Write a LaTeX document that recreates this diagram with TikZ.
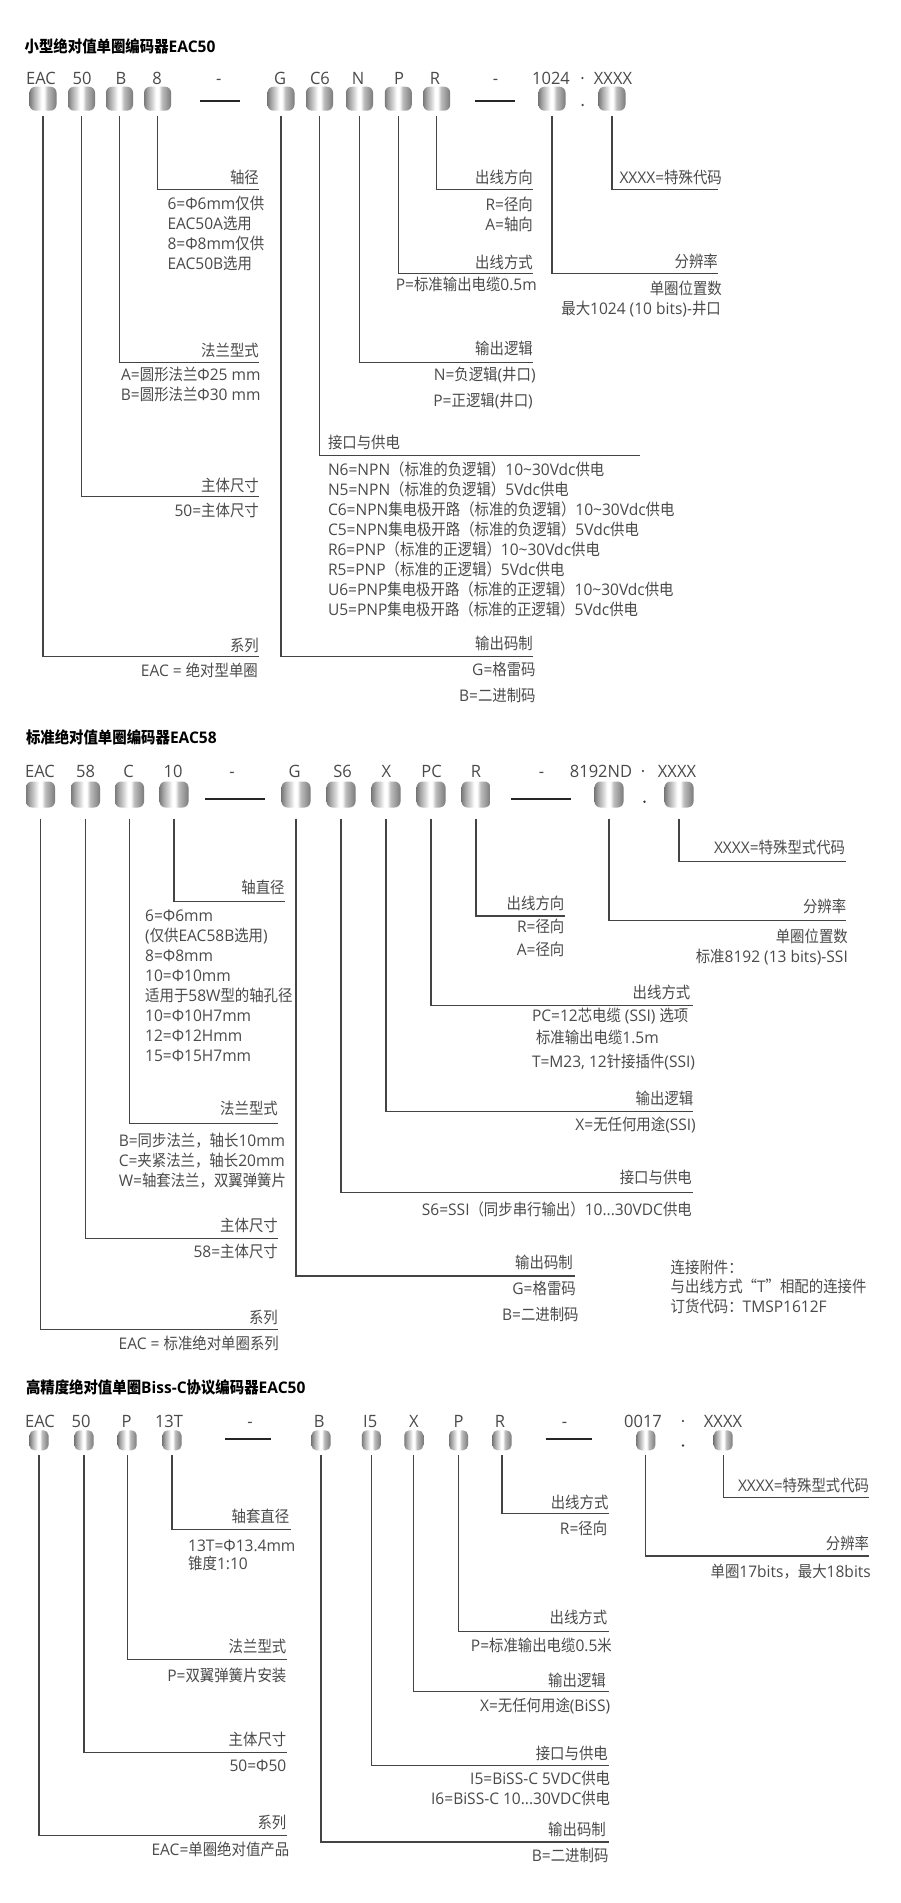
\documentclass[tikz,border=0pt]{standalone}
\usepackage{fontspec}
\setmainfont{Open Sans}[FakeStretch=0.97]
\newfontfamily\cjkfont{Noto Sans CJK SC}[FakeStretch=0.9]
\newcount\cjkcnt
\XeTeXinterchartokenstate=1
\chardef\cjkcls=7
\cjkcnt="3000
\loop
  \XeTeXcharclass\cjkcnt=\cjkcls
  \advance\cjkcnt by 1
\ifnum\cjkcnt<"A000 \repeat
\cjkcnt="FF00
\loop
  \XeTeXcharclass\cjkcnt=\cjkcls
  \advance\cjkcnt by 1
\ifnum\cjkcnt<"FFF0 \repeat
\XeTeXcharclass"201C=\cjkcls
\XeTeXcharclass"201D=\cjkcls
\XeTeXinterchartoks 0 \cjkcls = {\begingroup\cjkfont}
\XeTeXinterchartoks 4095 \cjkcls = {\begingroup\cjkfont}
\XeTeXinterchartoks \cjkcls 0 = {\endgroup}
\XeTeXinterchartoks \cjkcls 4095 = {\endgroup}
\definecolor{txt}{HTML}{4A4A4A}
\definecolor{lin}{HTML}{444444}
\definecolor{mA}{HTML}{7A7A7A}
\definecolor{mB}{HTML}{A8A8A8}
\definecolor{mC}{HTML}{D4D4D4}
\definecolor{mD}{HTML}{BDBDBD}
\definecolor{mE}{HTML}{9A9A9A}
\pgfdeclarehorizontalshading{metal}{100bp}{color(0bp)=(mA); color(25bp)=(mA); color(32bp)=(mB); color(40bp)=(mC); color(47bp)=(white); color(52bp)=(white); color(58bp)=(mD); color(67bp)=(mE); color(75bp)=(mA); color(100bp)=(mA)}
\tikzset{
  cyl/.style={shading=metal, rounded corners=6pt, inner sep=0pt, outer sep=0pt},
  cylA/.style={cyl, minimum width=27pt, minimum height=24pt},
  cylB/.style={cyl, minimum width=29pt, minimum height=26pt},
  cylC/.style={cyl, minimum width=19pt, minimum height=20pt, rounded corners=5pt},
  codelbl/.style={font=\fontsize{17}{20}\selectfont, text=txt, inner sep=0pt, text height=12pt, text depth=0pt},
  lbl/.style={font=\fontsize{16}{19}\selectfont, text=txt, inner sep=0pt, text height=11pt, text depth=0pt},
  lr/.style={lbl, anchor=east},
  ll/.style={lbl, anchor=west},
  ttl/.style={font=\fontsize{16}{19}\selectfont\bfseries, text=black, inner sep=0pt, anchor=west, text height=11pt, text depth=0pt},
  conn/.style={draw=lin, line width=1.1pt},
  grpdash/.style={draw=black!85, line width=2pt},
  dotm/.style={circle, fill=black!75, inner sep=0pt, minimum size=2.6pt},
}
\begin{document}
\begin{tikzpicture}[x=1pt,y=-1pt]
\fill[white] (0,0) rectangle (900,1903);
\useasboundingbox (0,0) rectangle (900,1903);

%================ Section 1 ================
\node[ttl] (t1) at (24.5,46.7) {小型绝对值单圈编码器EAC50};
\node[codelbl] (la1) at (41,78.3) {EAC};
\node[codelbl] (la2) at (82,78.3) {50};
\node[codelbl] (la3) at (121,78.3) {B};
\node[codelbl] (la4) at (157,78.3) {8};
\node[codelbl] (la5) at (218.8,78.3) {-};
\node[codelbl] (la6) at (280,78.3) {G};
\node[codelbl] (la7) at (320,78.3) {C6};
\node[codelbl] (la8) at (358,78.3) {N};
\node[codelbl] (la9) at (399,78.3) {P};
\node[codelbl] (la10) at (435,78.3) {R};
\node[codelbl] (la11) at (495.5,78.3) {-};
\node[codelbl] (la12) at (551,78.3) {1024};
\node[codelbl] (la13) at (582.6,78.3) {·};
\node[codelbl] (la14) at (613,78.3) {XXXX};

\node[cylA] (a1) at (43,98.7) {};
\node[cylA] (a2) at (81.5,98.7) {};
\node[cylA] (a3) at (119.5,98.7) {};
\node[cylA] (a4) at (157.6,98.7) {};
\node[cylA] (a5) at (281,98.7) {};
\node[cylA] (a6) at (319.5,98.7) {};
\node[cylA] (a7) at (359.5,98.7) {};
\node[cylA] (a8) at (398.3,98.7) {};
\node[cylA] (a9) at (436.7,98.7) {};
\node[cylA] (a10) at (552,98.7) {};
\node[cylA] (a11) at (612,98.7) {};
\draw[grpdash] (200,100.5) -- (240,100.5);
\draw[grpdash] (475.4,100.5) -- (514.7,100.5);
\node[dotm] (ad) at (582.6,105) {};

\coordinate (ea4) at (259,189.3);
\coordinate (ea9) at (533,189.3);
\coordinate (ea11) at (718,189.3);
\coordinate (ea8) at (533,273.3);
\coordinate (ea10) at (718,273.3);
\coordinate (ea3) at (259,362.7);
\coordinate (ea7) at (533,362.7);
\coordinate (ea6) at (640,455.7);
\coordinate (ea2) at (259,496.3);
\coordinate (ea1) at (259,656.7);
\coordinate (ea5) at (533,656.7);
\foreach \n in {1,...,11}{\draw[conn] ([yshift=-5pt]a\n.south) |- (ea\n);}

\node[lr] (sa4) at (259,178.3) {轴径};
\node[ll] (sa4a) at (167.3,204) {6=Φ6mm仅供};
\node[ll] (sa4b) at (167.3,224) {EAC50A选用};
\node[ll] (sa4c) at (167.3,244) {8=Φ8mm仅供};
\node[ll] (sa4d) at (167.3,264) {EAC50B选用};

\node[lr] (sa9) at (533,178.3) {出线方向};
\node[lr] (sa9a) at (533,205) {R=径向};
\node[lr] (sa9b) at (533,225) {A=轴向};

\node[lr] (sa11) at (722,178.3) {XXXX=特殊代码};

\node[lr] (sa8) at (533,262.7) {出线方式};
\node[lr] (sa8a) at (537,285) {P=标准输出电缆0.5m};

\node[lr] (sa10) at (718,261.7) {分辨率};
\node[lr] (sa10a) at (722,289) {单圈位置数};
\node[lr] (sa10b) at (721,309) {最大1024 (10 bits)-井口};

\node[lr] (sa3) at (259,350.7) {法兰型式};
\node[lr] (sa3a) at (260.7,375) {A=圆形法兰Φ25 mm};
\node[lr] (sa3b) at (260.7,395) {B=圆形法兰Φ30 mm};

\node[lr] (sa7) at (533,349.3) {输出逻辑};
\node[lr] (sa7a) at (535.8,375) {N=负逻辑(井口)};
\node[lr] (sa7b) at (533,401) {P=正逻辑(井口)};

\node[ll] (sa6) at (327.8,443.3) {接口与供电};
\node[ll] (sa6a) at (327.8,470) {N6=NPN（标准的负逻辑）10\textasciitilde30Vdc供电};
\node[ll] (sa6b) at (327.8,490) {N5=NPN（标准的负逻辑）5Vdc供电};
\node[ll] (sa6c) at (327.8,510) {C6=NPN集电极开路（标准的负逻辑）10\textasciitilde30Vdc供电};
\node[ll] (sa6d) at (327.8,530) {C5=NPN集电极开路（标准的负逻辑）5Vdc供电};
\node[ll] (sa6e) at (327.8,550) {R6=PNP（标准的正逻辑）10\textasciitilde30Vdc供电};
\node[ll] (sa6f) at (327.8,570) {R5=PNP（标准的正逻辑）5Vdc供电};
\node[ll] (sa6g) at (327.8,590) {U6=PNP集电极开路（标准的正逻辑）10\textasciitilde30Vdc供电};
\node[ll] (sa6h) at (327.8,610) {U5=PNP集电极开路（标准的正逻辑）5Vdc供电};

\node[lr] (sa2) at (259,485.7) {主体尺寸};
\node[lr] (sa2a) at (259,511) {50=主体尺寸};

\node[lr] (sa1) at (259,646) {系列};
\node[lr] (sa1a) at (258,670.7) {EAC = 绝对型单圈};

\node[lr] (sa5) at (533,644.3) {输出码制};
\node[lr] (sa5a) at (535.8,670) {G=格雷码};
\node[lr] (sa5b) at (535.8,696) {B=二进制码};

%================ Section 2 ================
\node[ttl] (t2) at (25.8,738.3) {标准绝对值单圈编码器EAC58};
\node[codelbl] (lb1) at (40,771.7) {EAC};
\node[codelbl] (lb2) at (85.5,771.7) {58};
\node[codelbl] (lb3) at (128.6,771.7) {C};
\node[codelbl] (lb4) at (173,771.7) {10};
\node[codelbl] (lb5) at (232,771.7) {-};
\node[codelbl] (lb6) at (294.5,771.7) {G};
\node[codelbl] (lb7) at (342.5,771.7) {S6};
\node[codelbl] (lb8) at (386.5,771.7) {X};
\node[codelbl] (lb9) at (431.5,771.7) {PC};
\node[codelbl] (lb10) at (476,771.7) {R};
\node[codelbl] (lb11) at (541.5,771.7) {-};
\node[codelbl] (lb12) at (601,771.7) {8192ND};
\node[codelbl] (lb13) at (643,771.7) {·};
\node[codelbl] (lb14) at (677,771.7) {XXXX};

\node[cylB] (b1) at (40.5,794.5) {};
\node[cylB] (b2) at (85.5,794.5) {};
\node[cylB] (b3) at (129.5,794.5) {};
\node[cylB] (b4) at (174,794.5) {};
\node[cylB] (b5) at (296,794.5) {};
\node[cylB] (b6) at (341,794.5) {};
\node[cylB] (b7) at (386,794.5) {};
\node[cylB] (b8) at (431,794.5) {};
\node[cylB] (b9) at (476,794.5) {};
\node[cylB] (b10) at (609,794.5) {};
\node[cylB] (b11) at (679,794.5) {};
\draw[grpdash] (205,799) -- (264.8,799);
\draw[grpdash] (511,799) -- (571,799);
\node[dotm] (bd) at (644.5,801.7) {};

\coordinate (eb1) at (278,1329.3);
\coordinate (eb2) at (278,1238.3);
\coordinate (eb3) at (278,1123.3);
\coordinate (eb4) at (284.8,901.7);
\coordinate (eb5) at (574.8,1276);
\coordinate (eb6) at (693.4,1192.3);
\coordinate (eb7) at (693.4,1111.7);
\coordinate (eb8) at (693.4,1005.7);
\coordinate (eb9) at (564.5,916);
\coordinate (eb10) at (846.4,920.7);
\coordinate (eb11) at (846.4,861.7);
\foreach \n in {1,...,11}{\draw[conn] ([yshift=-11pt]b\n.south) |- (eb\n);}

\node[lr] (sb11) at (845.3,847.7) {XXXX=特殊型式代码};

\node[lr] (sb4) at (284.8,888.3) {轴直径};
\node[ll] (sb4a) at (145,916) {6=Φ6mm};
\node[ll] (sb4b) at (145,936) {(仅供EAC58B选用)};
\node[ll] (sb4c) at (145,956) {8=Φ8mm};
\node[ll] (sb4d) at (145,976) {10=Φ10mm};
\node[ll] (sb4e) at (145,996) {适用于58W型的轴孔径};
\node[ll] (sb4f) at (145,1016) {10=Φ10H7mm};
\node[ll] (sb4g) at (145,1036) {12=Φ12Hmm};
\node[ll] (sb4h) at (145,1056) {15=Φ15H7mm};

\node[lr] (sb9) at (564.5,904.3) {出线方向};
\node[lr] (sb9a) at (564.5,926.7) {R=径向};
\node[lr] (sb9b) at (564.5,950) {A=径向};

\node[lr] (sb10) at (846.4,906.7) {分辨率};
\node[lr] (sb10a) at (848,937.3) {单圈位置数};
\node[lr] (sb10b) at (848,956.7) {标准8192 (13 bits)-SSI};

\node[lr] (sb8) at (690.5,993.3) {出线方式};
\node[ll] (sb8a) at (531.8,1016) {PC=12芯电缆 (SSI) 选项};
\node[ll] (sb8b) at (535.8,1038.3) {标准输出电缆1.5m};
\node[ll] (sb8c) at (531.8,1062.3) {T=M23, 12针接插件(SSI)};

\node[lr] (sb7) at (693.4,1099.3) {输出逻辑};
\node[lr] (sb7a) at (696,1125) {X=无任何用途(SSI)};

\node[lr] (sb3) at (278,1109.3) {法兰型式};
\node[ll] (sb3a) at (118.6,1140.7) {B=同步法兰，轴长10mm};
\node[ll] (sb3b) at (118.6,1160.7) {C=夹紧法兰，轴长20mm};
\node[ll] (sb3c) at (118.6,1180.7) {W=轴套法兰，双翼弹簧片};

\node[lr] (sb6) at (692,1178.3) {接口与供电};
\node[lr] (sb6a) at (692,1210) {S6=SSI（同步串行输出）10...30VDC供电};

\node[lr] (sb2) at (278,1226) {主体尺寸};
\node[lr] (sb2a) at (278,1251.7) {58=主体尺寸};

\node[lr] (sb5) at (573,1263.3) {输出码制};
\node[lr] (sb5a) at (576,1289.3) {G=格雷码};
\node[lr] (sb5b) at (578.8,1315) {B=二进制码};

\node[ll] (sn1) at (670.5,1268.3) {连接附件：};
\node[ll] (sn2) at (670.5,1287.3) {与出线方式“T”相配的连接件};
\node[ll] (sn3) at (670.5,1306.7) {订货代码：TMSP1612F};

\node[lr] (sb1) at (278,1317.7) {系列};
\node[lr] (sb1a) at (279,1344.3) {EAC = 标准绝对单圈系列};

%================ Section 3 ================
\node[ttl] (t3) at (25.8,1388.3) {高精度绝对值单圈Biss-C协议编码器EAC50};
\node[codelbl] (lc1) at (40,1421.7) {EAC};
\node[codelbl] (lc2) at (81,1421.7) {50};
\node[codelbl] (lc3) at (126.5,1421.7) {P};
\node[codelbl] (lc4) at (169,1421.7) {13T};
\node[codelbl] (lc5) at (250,1421.7) {-};
\node[codelbl] (lc6) at (319.2,1421.7) {B};
\node[codelbl] (lc7) at (370.2,1421.7) {I5};
\node[codelbl] (lc8) at (413.8,1421.7) {X};
\node[codelbl] (lc9) at (458.5,1421.7) {P};
\node[codelbl] (lc10) at (500,1421.7) {R};
\node[codelbl] (lc11) at (564.5,1421.7) {-};
\node[codelbl] (lc12) at (643,1421.7) {0017};
\node[codelbl] (lc13) at (683,1421.7) {·};
\node[codelbl] (lc14) at (723,1421.7) {XXXX};

\node[cylC] (c1) at (39,1440.3) {};
\node[cylC] (c2) at (84,1440.3) {};
\node[cylC] (c3) at (127.2,1440.3) {};
\node[cylC] (c4) at (172,1440.3) {};
\node[cylC] (c5) at (321,1440.3) {};
\node[cylC] (c6) at (371.3,1440.3) {};
\node[cylC] (c7) at (413.8,1440.3) {};
\node[cylC] (c8) at (458.5,1440.3) {};
\node[cylC] (c9) at (502,1440.3) {};
\node[cylC] (c10) at (645.8,1440.3) {};
\node[cylC] (c11) at (723.2,1440.3) {};
\draw[grpdash] (225,1439) -- (271,1439);
\draw[grpdash] (546,1439) -- (592,1439);
\node[dotm] (cd) at (683,1445.5) {};

\coordinate (ec1) at (286.5,1835.7);
\coordinate (ec2) at (286.5,1752.7);
\coordinate (ec3) at (286.5,1659.3);
\coordinate (ec4) at (290.5,1529.3);
\coordinate (ec5) at (608.6,1842);
\coordinate (ec6) at (608.6,1765.7);
\coordinate (ec7) at (608.6,1691.7);
\coordinate (ec8) at (608.6,1631.7);
\coordinate (ec9) at (608.6,1513.3);
\coordinate (ec10) at (869.3,1556);
\coordinate (ec11) at (869.3,1497.3);
\foreach \n in {1,...,11}{\draw[conn] ([yshift=-5pt]c\n.south) |- (ec\n);}

\node[lr] (sc11) at (869.3,1486) {XXXX=特殊型式代码};

\node[lr] (sc9) at (608.6,1503.3) {出线方式};
\node[lr] (sc9a) at (607.4,1529.3) {R=径向};

\node[lr] (sc4) at (289.4,1516.7) {轴套直径};
\node[ll] (sc4a) at (188,1545.7) {13T=Φ13.4mm};
\node[ll] (sc4b) at (188,1564.3) {锥度1:10};

\node[lr] (sc10) at (869.3,1544) {分辨率};
\node[lr] (sc10a) at (871,1571.7) {单圈17bits，最大18bits};

\node[lr] (sc8) at (607.4,1618.3) {出线方式};
\node[lr] (sc8a) at (612,1646) {P=标准输出电缆0.5米};

\node[lr] (sc3) at (286.5,1646.7) {法兰型式};
\node[lr] (sc3a) at (286.5,1676) {P=双翼弹簧片安装};

\node[lr] (sc7) at (606,1680.7) {输出逻辑};
\node[lr] (sc7a) at (610.3,1706) {X=无任何用途(BiSS)};

\node[lr] (sc2) at (286.5,1740) {主体尺寸};
\node[lr] (sc2a) at (286.5,1765.7) {50=Φ50};

\node[lr] (sc6) at (608,1754) {接口与供电};
\node[lr] (sc6a) at (610.3,1779.3) {I5=BiSS-C 5VDC供电};
\node[lr] (sc6b) at (610.3,1799.3) {I6=BiSS-C 10...30VDC供电};

\node[lr] (sc1) at (286.5,1823.3) {系列};
\node[lr] (sc1a) at (289.4,1850) {EAC=单圈绝对值产品};

\node[lr] (sc5) at (606,1830) {输出码制};
\node[lr] (sc5a) at (608.6,1856) {B=二进制码};
\end{tikzpicture}
\end{document}
